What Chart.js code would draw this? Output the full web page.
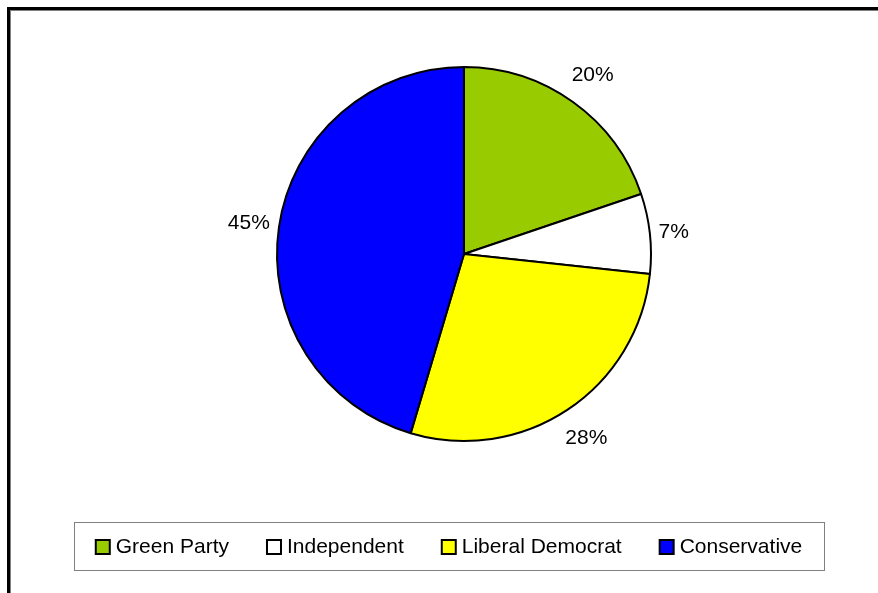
<!DOCTYPE html>
<html lang="en">
<head>
  <meta charset="UTF-8">
  <title>Party share</title>
  <script src="https://cdn.jsdelivr.net/npm/chart.js"></script>
  <style>
    html, body { margin: 0; padding: 0; background: #fff; }
    #wrap { position: relative; width: 878px; height: 593px; overflow: hidden; }
    /* outer frame, only top/left edges fall inside the window */
    #frame {
      position: absolute; left: 7px; top: 7px; width: 920px; height: 700px;
      border: 3px solid #000; box-shadow: inset 1px 1px 0 #808080;
    }
    canvas { position: absolute; left: 0; top: 0; }
  </style>
</head>
<body>
  <div id="wrap">
    <div id="frame"></div>
    <canvas id="pie" width="878" height="593"></canvas>
  </div>

  <script>
    // data
    const parties = ['Green Party', 'Independent', 'Liberal Democrat', 'Conservative'];
    const shares = [19.8, 6.9, 27.9, 45.4];
    const colours = ['#99CC00', '#FFFFFF', '#FFFF00', '#0000FF'];

    const FONT = '21px "Liberation Sans", Arial, sans-serif';

    // percentage labels outside each slice
    const outsideLabels = {
      id: 'outsideLabels',
      afterDatasetsDraw(chart) {
        const ctx = chart.ctx;
        const meta = chart.getDatasetMeta(0);
        const total = shares.reduce((a, b) => a + b, 0);
        ctx.save();
        ctx.font = FONT;
        ctx.fillStyle = '#000';
        ctx.textAlign = 'center';
        ctx.textBaseline = 'middle';
        meta.data.forEach((arc, i) => {
          const txt = Math.round(shares[i] / total * 100) + '%';
          const mid = (arc.startAngle + arc.endAngle) / 2;
          const cx = Math.cos(mid), cy = Math.sin(mid);
          const halfW = ctx.measureText(txt).width / 2;
          const d = arc.outerRadius + 7 + halfW * Math.abs(cx) + 18 * Math.abs(cy);
          ctx.fillText(txt, arc.x + cx * d, arc.y + cy * d + 1);
        });
        ctx.restore();
      }
    };

    // boxed legend like the original
    const boxLegend = {
      id: 'boxLegend',
      afterDraw(chart) {
        const ctx = chart.ctx;
        const bx = 74, by = 522, bw = 750, bh = 48;
        ctx.save();
        ctx.strokeStyle = '#808080';
        ctx.lineWidth = 1;
        ctx.strokeRect(bx + 0.5, by + 0.5, bw, bh);
        ctx.font = FONT;
        const sq = 14, gapText = 6, gapItem = 38;
        const widths = chart.data.labels.map(l => sq + gapText + ctx.measureText(l).width);
        const total = widths.reduce((a, b) => a + b, 0) + gapItem * (widths.length - 1);
        let x = bx + (bw - total) / 2;
        const yMid = by + bh / 2 + 1;
        const bg = chart.data.datasets[0].backgroundColor;
        chart.data.labels.forEach((l, i) => {
          ctx.fillStyle = bg[i];
          ctx.fillRect(x, yMid - sq / 2, sq, sq);
          ctx.strokeStyle = '#000';
          ctx.lineWidth = 2;
          ctx.strokeRect(x, yMid - sq / 2, sq, sq);
          ctx.fillStyle = '#000';
          ctx.textBaseline = 'middle';
          ctx.fillText(l, x + sq + gapText, yMid);
          x += widths[i] + gapItem;
        });
        ctx.restore();
      }
    };

    new Chart(document.getElementById('pie'), {
      type: 'pie',
      data: {
        labels: parties,
        datasets: [{
          data: shares,
          backgroundColor: colours,
          borderColor: '#000',
          borderWidth: 2
        }]
      },
      options: {
        responsive: false,
        animation: false,
        radius: 187,
        layout: { padding: { left: 269, right: 219, top: 59, bottom: 144 } },
        plugins: {
          legend: { display: false },
          tooltip: { enabled: false }
        },
        events: []
      },
      plugins: [outsideLabels, boxLegend]
    });
  </script>
</body>
</html>
